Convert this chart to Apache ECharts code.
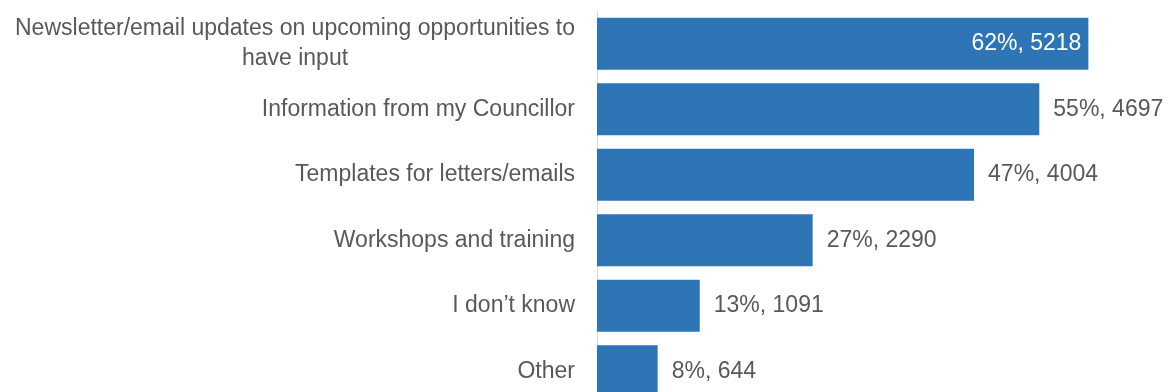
<!DOCTYPE html>
<html>
<head>
<meta charset="utf-8">
<script src="https://cdn.jsdelivr.net/npm/echarts@6/dist/echarts.min.js"></script>
<style>
  html, body { margin: 0; padding: 0; background: #ffffff; }
  #chart { width: 1168px; height: 392px; }
</style>
</head>
<body>
<div id="chart"></div>
<script>
// Survey answers: share of respondents and number of respondents per option
const categories = [
  'Newsletter/email updates on upcoming opportunities to\nhave input',
  'Information from my Councillor',
  'Templates for letters/emails',
  'Workshops and training',
  'I don\u2019t know',
  'Other'
];
const percents = [62, 55, 47, 27, 13, 8];
const counts = [5218, 4697, 4004, 2290, 1091, 644];

const FONT = '"Liberation Sans", Arial, sans-serif';
const FONT_SIZE = 23;
const TEXT_GREY = '#595959';
const BAR_BLUE = '#2e75b6';

// Width of the widest line of a label, so multi-line labels can centre their lines
function textWidth(str) {
  const ctx = document.createElement('canvas').getContext('2d');
  ctx.font = FONT_SIZE + 'px ' + FONT;
  return Math.max.apply(null, str.split('\n').map(s => ctx.measureText(s).width));
}
const wrapWidth = Math.ceil(Math.max.apply(null,
  categories.filter(c => c.indexOf('\n') >= 0).map(textWidth)));

const chart = echarts.init(document.getElementById('chart'), null, { renderer: 'canvas' });

const barData = counts.map((v, i) => ({
  value: v,
  label: i === 0
    ? { position: 'insideRight', color: '#ffffff', distance: 7 }
    : { position: 'right', color: TEXT_GREY, distance: 14 }
}));

chart.setOption({
  animation: false,
  backgroundColor: '#ffffff',
  grid: {
    left: 597, right: 6, top: 11, height: 393,
    containLabel: false,
    outerBoundsMode: 'none'
  },
  xAxis: {
    type: 'value',
    min: 0,
    max: 6000,
    show: false
  },
  yAxis: {
    type: 'category',
    inverse: true,
    data: categories,
    axisTick: { show: false },
    axisLine: { show: true, lineStyle: { color: '#d9d9d9', width: 1 } },
    splitLine: { show: false },
    axisLabel: {
      margin: 22,
      color: TEXT_GREY,
      fontFamily: FONT,
      fontSize: FONT_SIZE,
      lineHeight: 30,
      hideOverlap: false,
      formatter: function (value) {
        if (value.indexOf('\n') < 0) return value;
        return value.split('\n').map(s => '{c|' + s + '}').join('\n');
      },
      rich: {
        c: {
          width: wrapWidth,
          align: 'center',
          color: TEXT_GREY,
          fontFamily: FONT,
          fontSize: FONT_SIZE,
          lineHeight: 30
        }
      }
    }
  },
  series: [{
    type: 'bar',
    data: barData,
    barWidth: 52,
    itemStyle: { color: BAR_BLUE },
    label: {
      show: true,
      fontFamily: FONT,
      fontSize: FONT_SIZE,
      formatter: p => percents[p.dataIndex] + '%, ' + counts[p.dataIndex]
    }
  }]
});
</script>
</body>
</html>
